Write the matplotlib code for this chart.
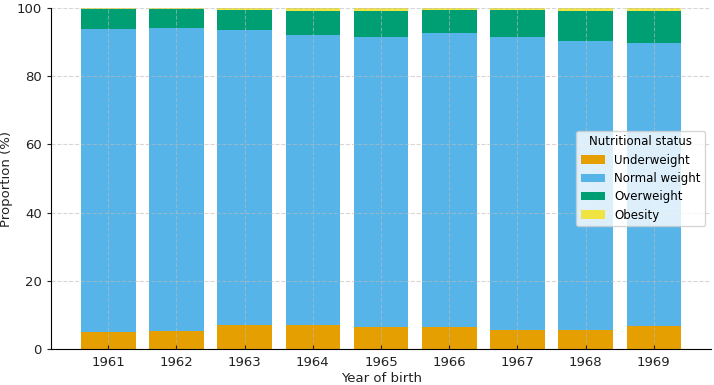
import numpy as np
import matplotlib
matplotlib.use("Agg")
import matplotlib.pyplot as plt

years = ["1961", "1962", "1963", "1964", "1965", "1966", "1967", "1968", "1969"]
underweight = [5.0, 5.2, 7.0, 7.0, 6.4, 6.4, 5.6, 5.6, 6.8]
normal = [88.8, 88.9, 86.5, 85.2, 85.1, 86.3, 86.0, 84.6, 83.1]
overweight = [5.9, 5.6, 5.9, 6.9, 7.7, 6.7, 7.7, 8.9, 9.1]
obesity = [0.3, 0.3, 0.6, 0.9, 0.8, 0.6, 0.7, 0.9, 1.0]

labels = ["Underweight", "Normal weight", "Overweight", "Obesity"]
colors = ["#E69F00", "#56B4E9", "#009E73", "#F0E442"]

fig = plt.figure(figsize=(7.14, 3.85), dpi=100)
ax = fig.add_axes([0.0714, 0.0935, 0.9246, 0.8855])

x = np.arange(len(years))
bottom = np.zeros(len(years))
for vals, lab, col in zip([underweight, normal, overweight, obesity], labels, colors):
    ax.bar(x, vals, 0.8, bottom=bottom, color=col, label=lab)
    bottom += np.array(vals)

ax.set_xticks(x)
ax.set_xticklabels(years)
ax.set_ylim(0, 100)
ax.set_xlabel("Year of birth", fontsize=9.5, color="#222222", labelpad=2)
ax.set_ylabel("Proportion (%)", fontsize=9.5, color="#222222", labelpad=3)
ax.tick_params(labelsize=9.5, colors="#222222", length=3)
ax.tick_params(axis="x", direction="in", pad=5)
ax.grid(True, linestyle="--", color="#bbbbbb", alpha=0.6, linewidth=0.8)
ax.spines["top"].set_visible(False)
ax.spines["right"].set_visible(False)

leg = ax.legend(title="Nutritional status", loc="center right", fontsize=8.5,
                title_fontsize=8.5, framealpha=0.8, labelspacing=0.45)

fig.savefig("out.png", dpi=100)
